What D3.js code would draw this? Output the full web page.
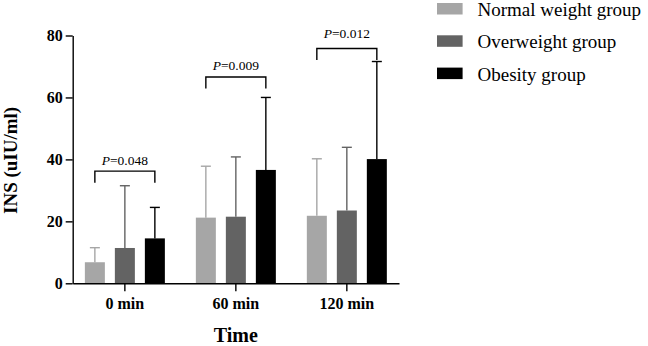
<!DOCTYPE html>
<html>
<head>
<meta charset="utf-8">
<script src="https://cdn.jsdelivr.net/npm/d3@7"></script>
<style>
  body { margin: 0; background: #fff; }
  text { font-family: "Liberation Serif", "Times New Roman", serif; }
</style>
</head>
<body>
<div id="chart-area"></div>
<script>
// data (mean, mean + SD)
const times = ['0 min', '60 min', '120 min'];
const groups = ['Normal weight group', 'Overweight group', 'Obesity group'];
const normalMean = [6.8, 21.2, 21.8];
const normalUpper = [11.5, 37.8, 40.2];
const overMean = [11.4, 21.5, 23.5];
const overUpper = [31.5, 40.8, 43.9];
const obeseMean = [14.5, 36.6, 40.1];
const obeseUpper = [24.5, 60.0, 71.6];
const pValues = ['0.048', '0.009', '0.012'];
const bracketLevels = [36.2, 66.6, 75.8];
const yTicks = [0, 20, 40, 60, 80];

const colors = ['#a6a6a6', '#636363', '#000000'];
const means = [normalMean, overMean, obeseMean];
const uppers = [normalUpper, overUpper, obeseUpper];

const rows = [];
times.forEach((t, i) => {
  groups.forEach((g, j) => {
    rows.push({ time: t, group: g, mean: means[j][i], upper: uppers[j][i], color: colors[j] });
  });
});

const W = 648, H = 346;
const svg = d3.select('#chart-area')
  .append('svg')
  .attr('width', W)
  .attr('height', H);

const plot = { left: 72.7, right: 399, top: 35.5, bottom: 283.3 };

const x = d3.scaleBand()
  .domain(times)
  .range([plot.left, plot.right])
  .paddingInner(0.1)
  .paddingOuter(0.02);
const xc = t => x(t) + x.bandwidth() / 2;
const xIn = d3.scaleBand()
  .domain(groups)
  .range([-40, 40])
  .paddingInner(1 / 3);
const y = d3.scaleLinear()
  .domain([0, 80])
  .range([plot.bottom, plot.top]);
const barMid = d => xc(d.time) + xIn(d.group) + xIn.bandwidth() / 2;

// bars
svg.selectAll('rect.bar')
  .data(rows)
  .enter()
  .append('rect')
  .attr('class', 'bar')
  .attr('x', d => xc(d.time) + xIn(d.group))
  .attr('y', d => y(d.mean))
  .attr('width', xIn.bandwidth())
  .attr('height', d => y(0) - y(d.mean))
  .attr('fill', d => d.color);

// error bars (upper only)
const cap = 5;
const err = svg.selectAll('g.err')
  .data(rows)
  .enter()
  .append('g')
  .attr('class', 'err')
  .attr('stroke', d => d.color)
  .attr('stroke-width', 1.4);
err.append('line')
  .attr('x1', barMid)
  .attr('x2', barMid)
  .attr('y1', d => y(d.mean))
  .attr('y2', d => y(d.upper));
err.append('line')
  .attr('x1', d => barMid(d) - cap)
  .attr('x2', d => barMid(d) + cap)
  .attr('y1', d => y(d.upper))
  .attr('y2', d => y(d.upper));

// axes
const xAxis = svg.append('g')
  .attr('transform', `translate(0, ${plot.bottom})`)
  .call(d3.axisBottom(x).tickSize(8).tickSizeOuter(0));
xAxis.select('.domain').attr('stroke-width', 1.4);
xAxis.selectAll('.tick line').attr('stroke-width', 1.4);
xAxis.selectAll('.tick text')
  .attr('y', 14)
  .attr('font-size', '16px')
  .attr('font-weight', 'bold')
  .attr('fill', '#000');

const yAxis = svg.append('g')
  .attr('transform', `translate(${plot.left}, 0)`)
  .call(d3.axisLeft(y).tickValues(yTicks).tickSize(7).tickSizeOuter(0));
yAxis.select('.domain').attr('stroke-width', 1.4);
yAxis.selectAll('.tick line').attr('stroke-width', 1.4);
yAxis.selectAll('.tick text')
  .attr('x', -10)
  .attr('font-size', '16px')
  .attr('font-weight', 'bold')
  .attr('fill', '#000');

// axis labels
svg.append('text')
  .attr('transform', `translate(16.5, ${(plot.top + plot.bottom) / 2 + 1}) rotate(-90)`)
  .attr('text-anchor', 'middle')
  .attr('font-size', '19px')
  .attr('font-weight', 'bold')
  .text('INS (uIU/ml)');
svg.append('text')
  .attr('x', (plot.left + plot.right) / 2)
  .attr('y', 342)
  .attr('text-anchor', 'middle')
  .attr('font-size', '20px')
  .attr('font-weight', 'bold')
  .text('Time');

// significance brackets
const leg = 3.7;
const labelGap = [6, 7, 10.5];
times.forEach((t, i) => {
  const x1 = xc(t) + xIn(groups[0]) + xIn.bandwidth() / 2;
  const x2 = xc(t) + xIn(groups[2]) + xIn.bandwidth() / 2;
  const yb = y(bracketLevels[i]);
  svg.append('path')
    .attr('d', `M${x1},${y(bracketLevels[i] - leg)}V${yb}H${x2}V${y(bracketLevels[i] - leg)}`)
    .attr('fill', 'none')
    .attr('stroke', '#000')
    .attr('stroke-width', 1.4);
  const lbl = svg.append('text')
    .attr('x', (x1 + x2) / 2)
    .attr('y', yb - labelGap[i])
    .attr('text-anchor', 'middle')
    .attr('font-size', '13.5px');
  lbl.append('tspan').attr('font-style', 'italic').text('P');
  lbl.append('tspan').text('=' + pValues[i]);
});

// legend
const legend = svg.selectAll('g.legend')
  .data(groups)
  .enter()
  .append('g')
  .attr('class', 'legend')
  .attr('transform', (d, i) => `translate(437, ${3 + i * 32.3})`);
legend.append('rect')
  .attr('width', 25.6)
  .attr('height', 11.5)
  .attr('fill', (d, i) => colors[i]);
legend.append('text')
  .attr('x', 40.5)
  .attr('y', 13)
  .attr('font-size', '19px')
  .text(d => d);
</script>
</body>
</html>
